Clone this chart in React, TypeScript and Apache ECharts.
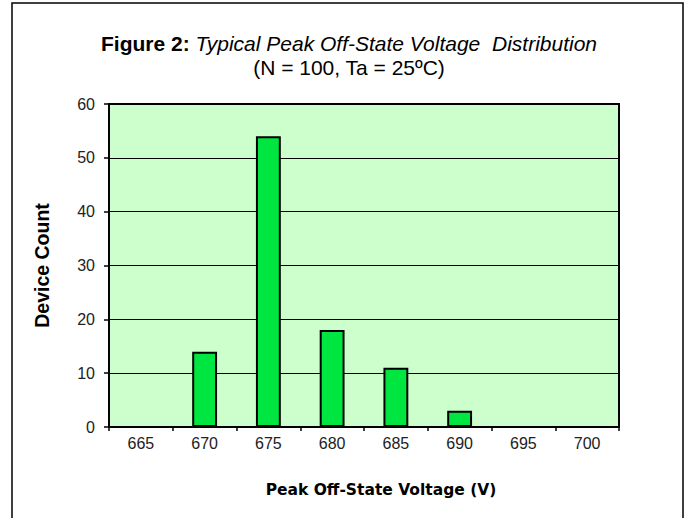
import React, { useEffect, useRef } from "react";
import * as echarts from "echarts";

const categories = ["665", "670", "675", "680", "685", "690", "695", "700"];
const counts = [0, 14, 54, 18, 11, 3, 0, 0];
const yTicks = { min: 0, max: 60, interval: 10 };
const titleBold = "Figure 2:";
const titleItalic = "Typical Peak Off-State Voltage  Distribution";
const subtitle = "(N = 100, Ta = 25ºC)";

export default function App() {
  const ref = useRef<HTMLDivElement>(null);
  useEffect(() => {
    if (!ref.current) return;
    const chart = echarts.init(ref.current, undefined, { renderer: "svg" });
    const font = "Arial, 'Liberation Sans', sans-serif";
    chart.setOption({
      animation: false,
      backgroundColor: "#ffffff",
      textStyle: { fontFamily: font },
      graphic: [
        {
          type: "rect",
          shape: { x: 12, y: 3, width: 671, height: 540 },
          style: { fill: "none", stroke: "#000", lineWidth: 1.5 },
          silent: true,
        },
        {
          type: "text",
          x: 349,
          y: 43,
          style: {
            text: `{b|${titleBold}} {i|${titleItalic}}`,
            textAlign: "center",
            textVerticalAlign: "middle",
            fill: "#000",
            font: `21px ${font}`,
            rich: {
              b: { fontWeight: "bold", fontSize: 21, fontFamily: font, fill: "#000" },
              i: { fontStyle: "italic", fontSize: 21, fontFamily: font, fill: "#000" },
            },
          },
        },
        {
          type: "text",
          x: 349,
          y: 67,
          style: {
            text: subtitle,
            textAlign: "center",
            textVerticalAlign: "middle",
            fill: "#000",
            font: `21px ${font}`,
          },
        },
      ],
      grid: {
        left: 109,
        top: 104,
        width: 510,
        height: 323,
        show: true,
        backgroundColor: "#ccffcc",
        borderColor: "#000",
        borderWidth: 2,
      },
      xAxis: {
        type: "category",
        data: categories,
        boundaryGap: true,
        name: "Peak Off-State Voltage (V)",
        nameLocation: "middle",
        nameGap: 55,
        nameTextStyle: {
          fontFamily: "'DejaVu Sans', Verdana, sans-serif",
          fontSize: 15.5,
          fontWeight: "bold",
          color: "#000",
          padding: [0, 0, 0, 34],
        },
        axisLine: { lineStyle: { color: "#000", width: 2 } },
        axisTick: { show: true, length: 4, lineStyle: { color: "#000", width: 1.5 } },
        axisLabel: { fontFamily: font, fontSize: 16, color: "#222", margin: 8 },
        splitLine: { show: false },
      },
      yAxis: {
        type: "value",
        min: yTicks.min,
        max: yTicks.max,
        interval: yTicks.interval,
        name: "Device Count",
        nameLocation: "middle",
        nameGap: 57,
        nameTextStyle: { fontFamily: font, fontSize: 19.5, fontWeight: "bold", color: "#000" },
        axisLine: { show: true, lineStyle: { color: "#000", width: 2 } },
        axisTick: { show: true, length: 5, lineStyle: { color: "#000", width: 1.5 } },
        axisLabel: { fontFamily: font, fontSize: 16, color: "#222", margin: 14 },
        splitLine: { show: true, lineStyle: { color: "#000", width: 1 } },
      },
      series: [
        {
          type: "bar",
          data: counts,
          barWidth: "39%",
          itemStyle: { color: "#00e640", borderColor: "#000", borderWidth: 2 },
        },
      ],
    });
    return () => chart.dispose();
  }, []);
  return (
    <div
      ref={ref}
      style={{ position: "fixed", left: 0, top: 0, width: 688, height: 518 }}
    />
  );
}
